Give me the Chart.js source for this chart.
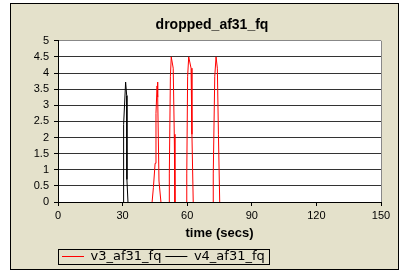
<!DOCTYPE html>
<html>
<head>
<meta charset="utf-8">
<script src="https://cdn.jsdelivr.net/npm/chart.js@4"></script>
<style>
  body { margin: 0; background: #fff; }
</style>
</head>
<body>
<canvas id="myChart" width="404" height="275"></canvas>
<script>
// spikes, null splits them apart
const v3Times = [43.7, 44.3, 45.1, 45.5, 46.0, 46.2, 46.4, 46.9, 47.8, null,
  51.6, 51.7, 52.2, 52.6, 53.5, 54.0, 54.3, null,
  59.7, 59.8, 60.2, 60.7, 61.8, 62.2, 62.8, null,
  72.0, 72.1, 72.8, 73.4, 74.0, 74.5, 75.1];
const v3Values = [0, 0.45, 1.2, 2.75, 3.6, 3.72, 3.25, 0.65, 0, null,
  0, 0.87, 3.9, 4.5, 4.15, 2.1, 0, null,
  0, 0.87, 3.9, 4.5, 4.15, 2.1, 0, null,
  0, 0.87, 3.9, 4.5, 4.15, 2.1, 0];
const v4Times = [30.2, 30.3, 30.65, 31.4, 31.9, 32.0, 32.5];
const v4Values = [0, 0.45, 2.4, 3.72, 3.3, 0.7, 0];

const xTicks = [0, 30, 60, 90, 120, 150];
const yTicks = [0, 0.5, 1, 1.5, 2, 2.5, 3, 3.5, 4, 4.5, 5];

const toPoints = (xs, ys) => xs.map((x, i) => ({ x: x === null ? (xs[i - 1] + xs[i + 1]) / 2 : x, y: ys[i] }));

Chart.defaults.color = "#000";
Chart.defaults.font.family = "'Liberation Sans', Arial, sans-serif";
Chart.defaults.font.size = 11;

const frame = {
  id: "frame",
  beforeDraw(chart) {
    const c = chart.ctx;
    const a = chart.chartArea;
    c.save();
    c.fillStyle = "#E4E1CB";
    c.fillRect(10, 3, 389, 267);
    c.strokeStyle = "#000";
    c.lineWidth = 1;
    c.strokeRect(10.5, 3.5, 388, 266);
    c.fillStyle = "#fff";
    c.fillRect(a.left, a.top, a.right - a.left, a.bottom - a.top);
    c.restore();
  },
  beforeDatasetsDraw(chart) {
    const c = chart.ctx;
    const a = chart.chartArea;
    c.save();
    c.strokeStyle = "#888";
    c.lineWidth = 1;
    c.beginPath();
    c.moveTo(Math.round(a.right) + 0.5, a.top);
    c.lineTo(Math.round(a.right) + 0.5, a.bottom);
    c.stroke();
    c.restore();
  },
  afterDraw(chart) {
    const boxes = chart.legend.legendHitBoxes;
    if (!boxes || !boxes.length) return;
    const first = boxes[0];
    const last = boxes[boxes.length - 1];
    const c = chart.ctx;
    c.save();
    c.strokeStyle = "#000";
    c.lineWidth = 1;
    const left = Math.round(first.left - 4) + 0.5;
    const top = Math.round(first.top - 1) + 0.5;
    const right = Math.round(last.left + last.width + 4) + 0.5;
    const bottom = Math.round(first.top + first.height + 1) + 0.5;
    c.strokeRect(left, top, right - left, bottom - top);
    c.restore();
  },
};

new Chart(document.getElementById("myChart"), {
  type: "line",
  data: {
    datasets: [
      {
        label: "v3_af31_fq",
        data: toPoints(v3Times, v3Values),
        borderColor: "#FF0000",
        backgroundColor: "#FF0000",
        borderWidth: 1,
        pointRadius: 0,
        tension: 0,
        spanGaps: false,
      },
      {
        label: "v4_af31_fq",
        data: toPoints(v4Times, v4Values),
        borderColor: "#000000",
        backgroundColor: "#000000",
        borderWidth: 1,
        pointRadius: 0,
        tension: 0,
      },
    ],
  },
  options: {
    responsive: false,
    animation: false,
    devicePixelRatio: 1,
    layout: {
      padding: { left: 30, right: 10, top: 8, bottom: 2 },
    },
    plugins: {
      title: {
        display: true,
        text: "dropped_af31_fq",
        font: { size: 14, weight: "bold" },
        padding: { top: 9, bottom: 7 },
      },
      legend: {
        position: "bottom",
        align: "start",
        fullSize: false,
        labels: {
          usePointStyle: true,
          pointStyle: "line",
          pointStyleWidth: 22,
          padding: 4,
          font: { family: "'DejaVu Sans', sans-serif", size: 13 },
        },
      },
      tooltip: { enabled: false },
    },
    scales: {
      x: {
        type: "linear",
        min: 0,
        max: 150,
        afterBuildTicks: (s) => { s.ticks = xTicks.map((v) => ({ value: v })); },
        afterFit: (s) => { s.height = 44; s.paddingRight = 23; s.paddingLeft = 0; },
        ticks: { padding: 3, maxRotation: 0, autoSkip: false, callback: (v) => String(v) },
        grid: { drawOnChartArea: false, tickLength: 4, tickColor: "#000" },
        border: { color: "#000" },
        title: {
          display: true,
          text: "time (secs)",
          font: { size: 13, weight: "bold" },
          padding: { top: 0, bottom: 5 },
        },
      },
      y: {
        min: 0,
        max: 5,
        afterBuildTicks: (s) => { s.ticks = yTicks.map((v) => ({ value: v })); },
        afterFit: (s) => { s.width = 28; },
        ticks: { padding: 5, autoSkip: false, callback: (v) => String(v) },
        grid: {
          color: (ctx) => (ctx.tick && ctx.tick.value === 5 ? "#888" : "#333"),
          tickColor: "#000",
          tickLength: 4,
        },
        border: { color: "#000" },
      },
    },
  },
  plugins: [frame],
});
</script>
</body>
</html>
